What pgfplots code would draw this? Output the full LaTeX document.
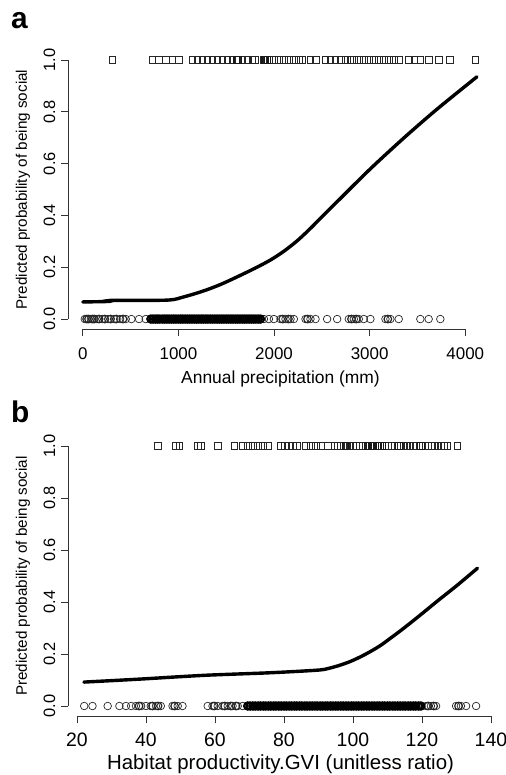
\documentclass[border=0pt]{standalone}
\usepackage{pgfplots}
\pgfplotsset{compat=1.18}
\usepackage{fontspec}
\setmainfont{Liberation Sans}
\begin{document}
\begin{tikzpicture}
\path[use as bounding box] (0bp,0bp) rectangle (506bp,-775bp);
\pgfplotsset{rstyle/.style={
  scale only axis, width=425bp,
  axis x line*=bottom, axis y line*=left,
  axis line style={draw=none},
  tick align=outside, major tick length=7bp,
  tick style={black!80, line width=0.8bp},
  clip=false,
  ytick={0,0.2,0.4,0.6,0.8,1},
  yticklabels={0.0,0.2,0.4,0.6,0.8,1.0},
  ymin=-0.04, ymax=1.04,
  yticklabel shift=6bp,
  yticklabel style={rotate=90, anchor=base, inner sep=0pt, font=\fontsize{16.5}{18}\selectfont},
  xticklabel style={anchor=base, inner sep=0pt, yshift=-23.5bp},
  ylabel={Predicted probability of being social},
  ylabel style={at={(axis description cs:-0.0965,0.5)}, anchor=base, inner sep=0pt, font=\fontsize{15.3}{17}\selectfont},
  sq/.style={only marks, mark=square, mark size=3.3bp, black!85, mark options={line width=0.6bp}},
  sqd/.style={only marks, mark=square, mark size=3.3bp, black!90, mark options={line width=1.1bp}},
  ci/.style={only marks, mark=o, mark size=3.8bp, black!85, mark options={line width=0.7bp}},
  cid/.style={only marks, mark=o, mark size=3.6bp, black, mark options={line width=2.2bp}},
  curve/.style={no marks, black, line width=3.4bp, smooth, line cap=round},
}}
% ---------------- panel a ----------------
\begin{axis}[rstyle,
  at={(68bp,-329.4bp)}, anchor=south west, height=279.8bp,
  xmin=-155, xmax=4290,
  xtick={0,1000,2000,3000,4000},
  xticklabels={0,1000,2000,3000,4000},
  xticklabel style={font=\fontsize{17}{19}\selectfont},
  xlabel={Annual precipitation (mm)},
  xlabel style={at={(axis description cs:0.5,-0.1916)}, anchor=base, inner sep=0pt, font=\fontsize{17.5}{19}\selectfont},
]
\draw[black!80, line width=0.8bp] (axis cs:0,-0.04) -- (axis cs:4000,-0.04);
\draw[black!80, line width=0.8bp] (axis cs:-155,0) -- (axis cs:-155,1);
\addplot[sq] coordinates {(310,1) (728,1) (797,1) (867,1) (937,1) (1006,1) (1145,1) (1198,1) (1250,1) (1302,1) (1354,1) (1406,1) (1459,1) (1511,1) (1563,1) (1615,1) (1668,1) (1720,1) (1772,1) (1796,1) (1894,1) (1922,1) (1950,1) (1998,1) (2051,1) (2103,1) (2155,1) (2207,1) (2259,1) (2294,1) (2381,1) (2434,1) (2538,1) (2590,1) (2642,1) (2695,1) (2747,1) (2799,1) (2834,1) (2886,1) (2938,1) (2991,1) (3043,1) (3095,1) (3147,1) (3199,1) (3252,1) (3304,1) (3408,1) (3467,1) (3530,1) (3617,1) (3722,1) (3837,1) (4104,1)};
\addplot[sqd] coordinates {(1900,1) (1912,1) (1930,1) (1606,1) (1625,1)};
\addplot[ci] coordinates {(21,0) (84,0) (146,0) (205,0) (265,0) (327,0) (390,0) (449,0) (508,0) (588,0) (658,0) (1894,0) (1946,0) (1998,0) (2068,0) (2120,0) (2172,0) (2207,0) (2329,0) (2381,0) (2434,0) (2555,0) (2660,0) (2782,0) (2834,0) (2886,0) (2938,0) (3008,0) (3165,0) (3217,0) (3304,0) (3530,0) (3617,0) (3739,0)};
\addplot[ci, mark options={line width=1.2bp}] coordinates {(40,0) (60,0) (100,0) (120,0) (170,0) (230,0) (290,0) (350,0) (420,0) (2090,0) (2150,0) (2350,0) (2810,0) (2860,0) (3190,0)};
\addplot[cid] coordinates {(712,0) (735,0) (761,0) (783,0) (806,0) (834,0) (857,0) (880,0) (903,0) (929,0) (952,0) (975,0) (1001,0) (1024,0) (1046,0) (1071,0) (1095,0) (1118,0) (1142,0) (1166,0) (1190,0) (1213,0) (1238,0) (1260,0) (1285,0) (1308,0) (1333,0) (1356,0) (1380,0) (1404,0) (1428,0) (1452,0) (1475,0) (1500,0) (1523,0) (1548,0) (1571,0) (1596,0) (1619,0) (1643,0) (1667,0) (1690,0) (1714,0) (1739,0) (1762,0) (1786,0) (1810,0) (1835,0) (1858,0)};
\addplot[curve] coordinates {(0,0.066) (280,0.068) (300,0.072) (880,0.073) (1050,0.085) (1267,0.109) (1450,0.135) (1615,0.163) (1800,0.196) (1963,0.228) (2100,0.261) (2242,0.302) (2370,0.346) (2486,0.389) (2660,0.453) (3008,0.580) (3355,0.698) (3704,0.810) (4122,0.935)};
\end{axis}
% ---------------- panel b ----------------
\begin{axis}[rstyle,
  at={(68bp,-716.4bp)}, anchor=south west, height=280.8bp,
  xmin=17.4, xmax=140.6,
  xtick={20,40,60,80,100,120,140},
  xticklabels={20,40,60,80,100,120,140},
  xticklabel style={font=\fontsize{19.5}{21}\selectfont},
  xlabel={Habitat productivity.GVI (unitless ratio)},
  xlabel style={at={(axis description cs:0.5,-0.1884)}, anchor=base, inner sep=0pt, font=\fontsize{20.5}{22}\selectfont},
]
\draw[black!80, line width=0.8bp] (axis cs:20,-0.04) -- (axis cs:140,-0.04);
\draw[black!80, line width=0.8bp] (axis cs:17.4,0) -- (axis cs:17.4,1);
\addplot[sq] coordinates {(43.4,1) (48.7,1) (49.7,1) (55.0,1) (55.9,1) (60.8,1) (65.6,1) (68.0,1) (69.5,1) (70.9,1) (72.4,1) (73.8,1) (75.3,1) (79.1,1) (80.3,1) (81.4,1) (82.6,1) (83.8,1) (86.4,1) (87.8,1) (89.3,1) (90.7,1) (92.7,1) (94.6,1) (95.5,1) (96.4,1) (97.3,1) (98.2,1) (99.1,1) (100.0,1) (100.9,1) (101.8,1) (102.7,1) (103.6,1) (109.3,1) (110.2,1) (111.1,1) (112.0,1) (112.9,1) (113.8,1) (114.7,1) (115.6,1) (116.5,1) (117.4,1) (118.3,1) (119.2,1) (120.1,1) (121.0,1) (121.9,1) (122.8,1) (123.7,1) (124.6,1) (125.5,1) (126.4,1) (127.4,1) (130.3,1)};
\addplot[sqd] coordinates {(104.4,1) (104.9,1) (105.4,1) (105.9,1) (106.4,1) (106.9,1) (107.4,1) (107.9,1) (108.4,1) (97.8,1) (113.4,1) (119.7,1)};
\addplot[ci] coordinates {(22.1,0) (24.5,0) (28.9,0) (32.3,0) (34.2,0) (35.7,0) (37.1,0) (38.6,0) (40.0,0) (41.4,0) (42.9,0) (44.3,0) (47.7,0) (49.2,0) (50.6,0) (57.9,0) (59.3,0) (60.8,0) (62.2,0) (63.7,0) (65.1,0) (66.6,0) (68.0,0) (121.2,0) (122.6,0) (124.1,0) (129.9,0) (131.3,0) (132.8,0) (135.7,0)};
\addplot[ci, mark options={line width=1.2bp}] coordinates {(38.0,0) (41.9,0) (43.5,0) (48.3,0) (59.8,0) (62.8,0) (64.6,0) (66.1,0) (121.8,0) (123.4,0) (130.6,0)};
\addplot[cid] coordinates {(69.5,0) (70.2,0) (71.0,0) (71.7,0) (72.5,0) (73.2,0) (74.0,0) (74.7,0) (75.5,0) (76.2,0) (77.0,0) (77.7,0) (78.5,0) (79.2,0) (80.0,0) (80.7,0) (81.5,0) (82.2,0) (83.0,0) (83.7,0) (84.5,0) (85.2,0) (86.0,0) (86.7,0) (87.5,0) (88.2,0) (89.0,0) (89.7,0) (90.5,0) (91.2,0) (92.0,0) (92.7,0) (93.5,0) (94.2,0) (95.0,0) (95.7,0) (96.5,0) (97.2,0) (98.0,0) (98.7,0) (99.5,0) (100.2,0) (101.0,0) (101.7,0) (102.5,0) (103.2,0) (104.0,0) (104.7,0) (105.5,0) (106.2,0) (107.0,0) (107.7,0) (108.5,0) (109.2,0) (110.0,0) (110.7,0) (111.5,0) (112.2,0) (113.0,0) (113.7,0) (114.5,0) (115.2,0) (116.0,0) (116.7,0) (117.5,0) (118.2,0) (119.0,0) (119.7,0)};
\addplot[curve] coordinates {(22,0.092) (37.6,0.103) (56.9,0.118) (76.2,0.128) (89.8,0.138) (93,0.145) (96,0.156) (99,0.170) (102,0.188) (105,0.209) (108,0.233) (111,0.262) (114.9,0.301) (120,0.355) (124.6,0.405) (130,0.462) (136.1,0.530)};
\end{axis}
\node[anchor=base west, inner sep=0pt, font=\fontsize{30}{32}\selectfont\bfseries] at (11bp,-28bp) {a};
\node[anchor=base west, inner sep=0pt, font=\fontsize{30}{32}\selectfont\bfseries] at (11bp,-422bp) {b};
\end{tikzpicture}
\end{document}
